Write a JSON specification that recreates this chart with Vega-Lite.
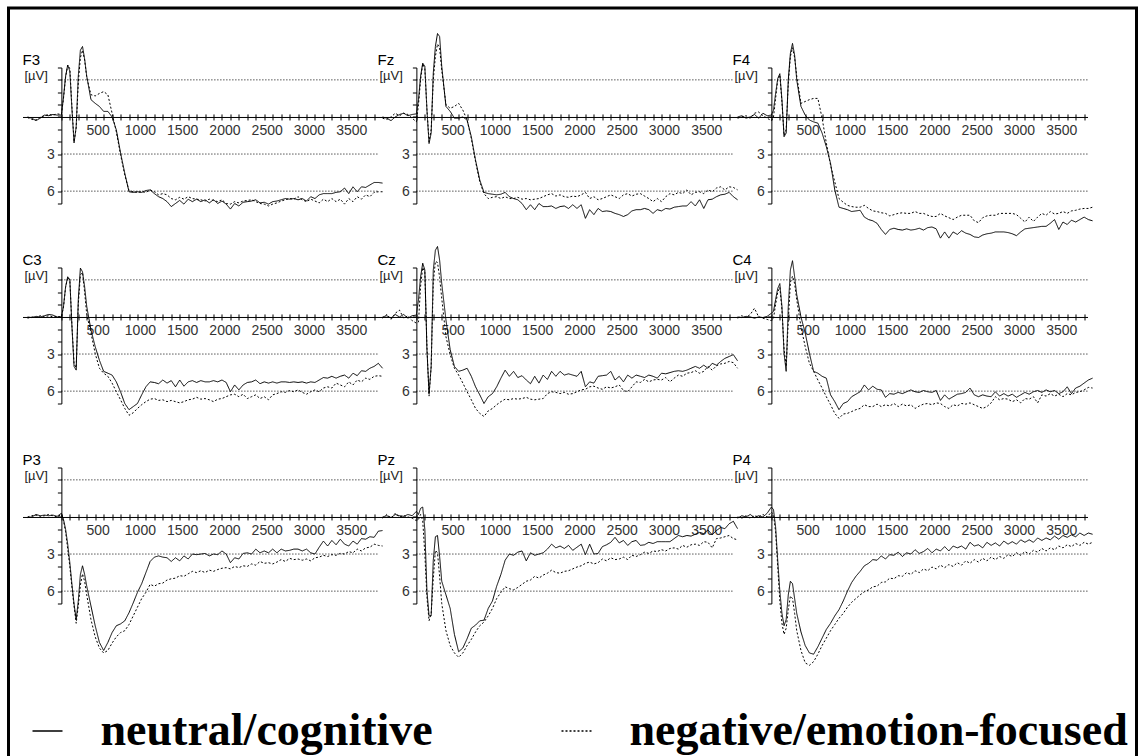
{
  "$schema": "https://vega.github.io/schema/vega-lite/v6.json",
  "background": "white",
  "padding": {"left": 6.5, "top": 6.5, "right": 0, "bottom": 0},
  "bounds": "flush",
  "data": {"values": [
    {"t":-400,"F3n":0,"F3e":0.05,"Fzn":0,"Fze":0.1,"F4n":0,"F4e":0.1,"C3n":0,"C3e":0.1,"Czn":0,"Cze":0.1,"C4n":0,"C4e":0.1,"P3n":0.05,"P3e":0,"Pzn":0,"Pze":0.1,"P4n":0.1,"P4e":0},
    {"t":-350,"F3n":0.1,"F3e":0.2,"Fzn":0.1,"Fze":0.2,"F4n":-0.1,"F4e":0,"C3n":0.05,"C3e":0,"Czn":-0.1,"Cze":-0.2,"C4n":0.05,"C4e":-0.1,"P3n":0,"P3e":-0.1,"Pzn":-0.1,"Pze":-0.2,"P4n":-0.1,"P4e":0.1},
    {"t":-300,"F3n":0.3,"F3e":0.25,"Fzn":0.3,"Fze":0,"F4n":0.1,"F4e":-0.1,"C3n":-0.05,"C3e":0.05,"Czn":0.1,"Cze":0.2,"C4n":-0.05,"C4e":0.05,"P3n":-0.2,"P3e":-0.15,"Pzn":0.05,"Pze":0.1,"P4n":0,"P4e":-0.1},
    {"t":-250,"F3n":0.1,"F3e":0,"Fzn":0,"Fze":-0.3,"F4n":0,"F4e":0.1,"C3n":0,"C3e":-0.1,"Czn":-0.2,"Cze":-0.3,"C4n":0,"C4e":-0.2,"P3n":-0.1,"P3e":-0.05,"Pzn":-0.2,"Pze":-0.3,"P4n":-0.2,"P4e":0.1},
    {"t":-200,"F3n":-0.15,"F3e":-0.1,"Fzn":-0.2,"Fze":-0.1,"F4n":-0.2,"F4e":-0.3,"C3n":-0.1,"C3e":0,"Czn":0,"Cze":-0.55,"C4n":0.1,"C4e":-0.7,"P3n":-0.15,"P3e":-0.1,"Pzn":-0.1,"Pze":0,"P4n":0.05,"P4e":-0.1},
    {"t":-150,"F3n":-0.1,"F3e":-0.2,"Fzn":-0.3,"Fze":-0.3,"F4n":0.1,"F4e":-0.4,"C3n":-0.2,"C3e":-0.1,"Czn":-0.2,"Cze":0.1,"C4n":0,"C4e":0,"P3n":-0.1,"P3e":-0.2,"Pzn":-0.05,"Pze":-0.1,"P4n":-0.1,"P4e":0},
    {"t":-100,"F3n":-0.2,"F3e":-0.15,"Fzn":-0.1,"Fze":-0.2,"F4n":-0.3,"F4e":-0.1,"C3n":-0.15,"C3e":0,"Czn":0.1,"Cze":-0.1,"C4n":0.05,"C4e":0.1,"P3n":-0.15,"P3e":-0.1,"Pzn":-0.2,"Pze":0,"P4n":0,"P4e":-0.2},
    {"t":-50,"F3n":-0.15,"F3e":-0.25,"Fzn":-0.2,"Fze":0.1,"F4n":-0.1,"F4e":0.1,"C3n":0,"C3e":-0.05,"Czn":-0.1,"Cze":0.3,"C4n":-0.05,"C4e":0.2,"P3n":-0.05,"P3e":0,"Pzn":-0.1,"Pze":0.1,"P4n":-0.3,"P4e":0},
    {"t":0,"F3n":-0.15,"F3e":-0.2,"Fzn":-0.25,"Fze":0.4,"F4n":-0.15,"F4e":0.3,"C3n":0.05,"C3e":0,"Czn":-0.15,"Cze":0.5,"C4n":-0.3,"C4e":0.3,"P3n":-0.3,"P3e":-0.2,"Pzn":-0.45,"Pze":0.3,"P4n":-0.8,"P4e":-0.4},
    {"t":25,"F3n":-1.6,"F3e":-1.5,"Fzn":-1.4,"Fze":-1,"F4n":-0.55,"F4e":0,"C3n":-0.85,"C3e":-0.8,"Czn":-1.4,"Cze":0.4,"C4n":-0.45,"C4e":0.1,"P3n":0.2,"P3e":0.3,"Pzn":-0.2,"Pze":0.2,"P4n":-0.6,"P4e":-0.2},
    {"t":50,"F3n":-3.3,"F3e":-3.2,"Fzn":-3.3,"Fze":-3,"F4n":-1.9,"F4e":-1.5,"C3n":-2.45,"C3e":-2.4,"Czn":-3.25,"Cze":-2.5,"C4n":-1.4,"C4e":-1,"P3n":1,"P3e":1.2,"Pzn":-0.7,"Pze":-0.2,"P4n":0.8,"P4e":1.2},
    {"t":75,"F3n":-4.2,"F3e":-4.2,"Fzn":-4.35,"Fze":-4.3,"F4n":-3.1,"F4e":-3,"C3n":-3.25,"C3e":-3.2,"Czn":-4.35,"Cze":-4,"C4n":-2.3,"C4e":-2,"P3n":2.2,"P3e":2.6,"Pzn":-0.8,"Pze":0.3,"P4n":3.5,"P4e":4},
    {"t":100,"F3n":-3.7,"F3e":-3.9,"Fzn":-4.1,"Fze":-3.9,"F4n":-3.5,"F4e":-3.4,"C3n":-3,"C3e":-3,"Czn":-3.8,"Cze":-3.6,"C4n":-2.7,"C4e":-2.4,"P3n":3.7,"P3e":4,"Pzn":1,"Pze":3,"P4n":6,"P4e":6.8},
    {"t":125,"F3n":-0.6,"F3e":-0.8,"Fzn":-0.55,"Fze":-0.6,"F4n":-1.4,"F4e":-1.2,"C3n":0.8,"C3e":0.7,"Czn":2.65,"Cze":2.4,"C4n":-0.85,"C4e":-0.6,"P3n":5.45,"P3e":5.7,"Pzn":6,"Pze":6.5,"P4n":7.8,"P4e":8.6},
    {"t":150,"F3n":2.1,"F3e":2,"Fzn":2.15,"Fze":2,"F4n":1.6,"F4e":1.5,"C3n":4,"C3e":3.8,"Czn":6.2,"Cze":6.4,"C4n":2.95,"C4e":2.6,"P3n":7.05,"P3e":7.2,"Pzn":8,"Pze":8.4,"P4n":8.8,"P4e":9.5},
    {"t":175,"F3n":0.8,"F3e":0.9,"Fzn":1.3,"Fze":1,"F4n":1.3,"F4e":1,"C3n":4.3,"C3e":4.1,"Czn":4,"Cze":4,"C4n":4.4,"C4e":4,"P3n":8.3,"P3e":8.6,"Pzn":8,"Pze":7.8,"P4n":8.3,"P4e":9},
    {"t":200,"F3n":-3.3,"F3e":-2.8,"Fzn":-3.55,"Fze":-3,"F4n":-3,"F4e":-2.7,"C3n":-1.4,"C3e":-1,"Czn":-3.8,"Cze":-2.8,"C4n":-0.85,"C4e":0.3,"P3n":6.8,"P3e":7.2,"Pzn":3.5,"Pze":5,"P4n":6.3,"P4e":7.5},
    {"t":225,"F3n":-5.4,"F3e":-4.8,"Fzn":-5.7,"Fze":-4.9,"F4n":-5.15,"F4e":-4.9,"C3n":-3.95,"C3e":-3.4,"Czn":-5.4,"Cze":-4.5,"C4n":-3.8,"C4e":-2.8,"P3n":4.65,"P3e":5.5,"Pzn":1.6,"Pze":2.7,"P4n":5.2,"P4e":6.4},
    {"t":250,"F3n":-5.7,"F3e":-5.4,"Fzn":-6.75,"Fze":-5.9,"F4n":-5.95,"F4e":-5.6,"C3n":-3.65,"C3e":-3.6,"Czn":-5.7,"Cze":-4.4,"C4n":-4.55,"C4e":-3.3,"P3n":3.95,"P3e":4.6,"Pzn":1.5,"Pze":2.9,"P4n":5.4,"P4e":6.6},
    {"t":275,"F3n":-4.7,"F3e":-4.6,"Fzn":-6.5,"Fze":-5.6,"F4n":-5,"F4e":-4.8,"C3n":-2.45,"C3e":-2,"Czn":-4.6,"Cze":-3.2,"C4n":-3.25,"C4e":-2.7,"P3n":4.65,"P3e":5.2,"Pzn":3.2,"Pze":4.8,"P4n":6.6,"P4e":7.8},
    {"t":300,"F3n":-3.3,"F3e":-3.2,"Fzn":-4.1,"Fze":-3.8,"F4n":-3,"F4e":-3.3,"C3n":-0.85,"C3e":-0.2,"Czn":-2.7,"Cze":-1.5,"C4n":-1.8,"C4e":-1.4,"P3n":5.6,"P3e":6.3,"Pzn":5.2,"Pze":7,"P4n":7.8,"P4e":9.2},
    {"t":350,"F3n":-1.4,"F3e":-1.8,"Fzn":-0.85,"Fze":-1,"F4n":-0.85,"F4e":-1.1,"C3n":1.05,"C3e":1.3,"Czn":0.25,"Cze":1.6,"C4n":0,"C4e":0.8,"P3n":7.2,"P3e":8.3,"Pzn":6.3,"Pze":9.2,"P4n":9.3,"P4e":10.8},
    {"t":400,"F3n":-1.1,"F3e":-1.7,"Fzn":-0.45,"Fze":-0.7,"F4n":-0.15,"F4e":-1.25,"C3n":2.4,"C3e":2.95,"Czn":2.65,"Cze":3.05,"C4n":1.3,"C4e":2.4,"P3n":8.8,"P3e":9.7,"Pzn":7.4,"Pze":10.4,"P4n":10.4,"P4e":11.8},
    {"t":450,"F3n":-0.85,"F3e":-1.9,"Fzn":0.1,"Fze":-0.85,"F4n":0.25,"F4e":-1.4,"C3n":3.5,"C3e":4.15,"Czn":4,"Cze":4.15,"C4n":2.95,"C4e":3.75,"P3n":10.15,"P3e":10.6,"Pzn":9.5,"Pze":11,"P4n":11,"P4e":12},
    {"t":500,"F3n":-0.45,"F3e":-2.05,"Fzn":0.1,"Fze":-1.1,"F4n":0.4,"F4e":-1.5,"C3n":4.4,"C3e":4.55,"Czn":4.4,"Cze":4.7,"C4n":4.4,"C4e":4.4,"P3n":10.8,"P3e":11,"Pzn":10.9,"Pze":11.35,"P4n":11.1,"P4e":11.7},
    {"t":550,"F3n":-0.45,"F3e":-1.8,"Fzn":0,"Fze":-0.55,"F4n":0.5,"F4e":-1.5,"C3n":4.55,"C3e":4.8,"Czn":4.3,"Cze":5.35,"C4n":4.55,"C4e":5.1,"P3n":10.15,"P3e":10.8,"Pzn":10.6,"Pze":11,"P4n":10.5,"P4e":11.1},
    {"t":600,"F3n":0,"F3e":-0.3,"Fzn":0.25,"Fze":0.25,"F4n":1.3,"F4e":0.1,"C3n":4.7,"C3e":5.35,"Czn":4.15,"Cze":6.05,"C4n":4.8,"C4e":5.75,"P3n":9.35,"P3e":10.2,"Pzn":9.85,"Pze":10.4,"P4n":9.8,"P4e":10.4},
    {"t":650,"F3n":1.05,"F3e":1.2,"Fzn":1.6,"Fze":1.75,"F4n":2.4,"F4e":2.1,"C3n":5.25,"C3e":6.05,"Czn":4.8,"Cze":6.7,"C4n":4.95,"C4e":6.45,"P3n":8.8,"P3e":9.7,"Pzn":9,"Pze":9.9,"P4n":9.1,"P4e":9.8},
    {"t":700,"F3n":2.9,"F3e":3.05,"Fzn":3.5,"Fze":3.6,"F4n":3.75,"F4e":3.9,"C3n":6.05,"C3e":6.7,"Czn":5.65,"Cze":7.4,"C4n":6.3,"C4e":7.1,"P3n":8.65,"P3e":9.35,"Pzn":8.75,"Pze":9.3,"P4n":8.6,"P4e":9.2},
    {"t":750,"F3n":4.55,"F3e":4.7,"Fzn":5.1,"Fze":5.25,"F4n":5.9,"F4e":5.25,"C3n":7,"C3e":7.4,"Czn":6.3,"Cze":7.8,"C4n":6.85,"C4e":7.8,"P3n":8.4,"P3e":9.2,"Pzn":8.4,"Pze":8.8,"P4n":8,"P4e":8.7},
    {"t":800,"F3n":6.05,"F3e":5.95,"Fzn":6.1,"Fze":6.2,"F4n":7.3,"F4e":6.6,"C3n":7.5,"C3e":7.95,"Czn":7,"Cze":8.05,"C4n":7.5,"C4e":8.2,"P3n":7.75,"P3e":8.7,"Pzn":8.35,"Pze":8.5,"P4n":7.5,"P4e":8.2},
    {"t":850,"F3n":6.1,"F3e":6.05,"Fzn":6.2,"Fze":6.6,"F4n":7.4,"F4e":6.9,"C3n":7.25,"C3e":7.75,"Czn":6.45,"Cze":7.6,"C4n":7,"C4e":7.85,"P3n":6.95,"P3e":8,"Pzn":7.4,"Pze":8,"P4n":6.8,"P4e":7.8},
    {"t":900,"F3n":6.05,"F3e":6.1,"Fzn":6.25,"Fze":6.5,"F4n":7.5,"F4e":7.15,"C3n":7,"C3e":7.4,"Czn":6.2,"Cze":7.4,"C4n":6.85,"C4e":7.8,"P3n":6.1,"P3e":7.3,"Pzn":6.8,"Pze":7.4,"P4n":6,"P4e":7.3},
    {"t":950,"F3n":6.1,"F3e":6.05,"Fzn":6.3,"Fze":6.45,"F4n":7.65,"F4e":7.25,"C3n":6.3,"C3e":7.1,"Czn":5.65,"Cze":7.1,"C4n":6.45,"C4e":7.65,"P3n":5.4,"P3e":6.6,"Pzn":5.6,"Pze":6.6,"P4n":5.3,"P4e":6.9},
    {"t":1000,"F3n":5.95,"F3e":6.1,"Fzn":6.25,"Fze":6.6,"F4n":7.6,"F4e":7.3,"C3n":5.65,"C3e":6.85,"Czn":4.95,"Cze":6.85,"C4n":6.25,"C4e":7.5,"P3n":4.5,"P3e":6.1,"Pzn":4.65,"Pze":6.1,"P4n":4.8,"P4e":6.6},
    {"t":1050,"F3n":5.9,"F3e":5.9,"Fzn":6.1,"Fze":6.45,"F4n":7.55,"F4e":7.3,"C3n":5.25,"C3e":6.65,"Czn":4.3,"Cze":6.65,"C4n":6.05,"C4e":7.4,"P3n":3.6,"P3e":5.45,"Pzn":3.5,"Pze":5.65,"P4n":4.4,"P4e":6.3},
    {"t":1100,"F3n":6.2,"F3e":6.05,"Fzn":6.45,"Fze":6.6,"F4n":8.1,"F4e":7.15,"C3n":5.3,"C3e":6.6,"Czn":4.8,"Cze":6.7,"C4n":5.5,"C4e":7.1,"P3n":3.25,"P3e":5.6,"Pzn":3,"Pze":5.8,"P4n":3.95,"P4e":6.05},
    {"t":1150,"F3n":6.45,"F3e":6.3,"Fzn":6.6,"Fze":6.6,"F4n":8.3,"F4e":7.4,"C3n":5.4,"C3e":6.75,"Czn":4.4,"Cze":6.6,"C4n":5.9,"C4e":7.25,"P3n":3.15,"P3e":5.4,"Pzn":3.1,"Pze":5.9,"P4n":3.75,"P4e":5.9},
    {"t":1200,"F3n":6.6,"F3e":6.2,"Fzn":6.7,"Fze":6.5,"F4n":8.4,"F4e":7.6,"C3n":5.1,"C3e":6.7,"Czn":4.9,"Cze":6.65,"C4n":5.6,"C4e":7.25,"P3n":3.25,"P3e":5.35,"Pzn":2.85,"Pze":5.7,"P4n":3.45,"P4e":5.65},
    {"t":1250,"F3n":6.85,"F3e":6.3,"Fzn":7,"Fze":6.65,"F4n":8.6,"F4e":7.65,"C3n":5.35,"C3e":6.85,"Czn":4.75,"Cze":6.6,"C4n":5.85,"C4e":7.05,"P3n":3.3,"P3e":5.1,"Pzn":2.75,"Pze":5.45,"P4n":3.5,"P4e":5.6},
    {"t":1300,"F3n":7.25,"F3e":6.6,"Fzn":7.5,"Fze":6.6,"F4n":9.1,"F4e":7.75,"C3n":5.15,"C3e":6.75,"Czn":5.1,"Cze":6.5,"C4n":5.9,"C4e":7.25,"P3n":3.6,"P3e":5,"Pzn":3.55,"Pze":5.2,"P4n":3.15,"P4e":5.3},
    {"t":1350,"F3n":7,"F3e":6.7,"Fzn":7.1,"Fze":6.7,"F4n":9.5,"F4e":7.8,"C3n":5.65,"C3e":6.85,"Czn":5.4,"Cze":6.65,"C4n":6.5,"C4e":7.1,"P3n":3.3,"P3e":4.95,"Pzn":2.9,"Pze":5.1,"P4n":3.4,"P4e":5.25},
    {"t":1400,"F3n":6.75,"F3e":6.5,"Fzn":7.5,"Fze":6.65,"F4n":9.1,"F4e":8,"C3n":5.1,"C3e":6.95,"Czn":4.8,"Cze":6.7,"C4n":6.2,"C4e":7.2,"P3n":3.55,"P3e":4.75,"Pzn":3.1,"Pze":4.8,"P4n":3.05,"P4e":4.95},
    {"t":1450,"F3n":7.05,"F3e":6.65,"Fzn":7,"Fze":6.6,"F4n":9,"F4e":7.9,"C3n":5.6,"C3e":6.85,"Czn":5.35,"Cze":6.65,"C4n":6.25,"C4e":7,"P3n":3.15,"P3e":4.8,"Pzn":3,"Pze":4.95,"P4n":3.1,"P4e":5},
    {"t":1500,"F3n":6.65,"F3e":6.45,"Fzn":7.25,"Fze":6.45,"F4n":9.1,"F4e":7.8,"C3n":5.25,"C3e":6.7,"Czn":4.7,"Cze":6.6,"C4n":6.1,"C4e":7.25,"P3n":3.4,"P3e":4.6,"Pzn":2.9,"Pze":4.7,"P4n":2.85,"P4e":4.75},
    {"t":1550,"F3n":6.85,"F3e":6.6,"Fzn":7.25,"Fze":6.3,"F4n":9.15,"F4e":7.75,"C3n":5.15,"C3e":6.65,"Czn":5.05,"Cze":6.2,"C4n":6.2,"C4e":7.05,"P3n":3,"P3e":4.4,"Pzn":2.6,"Pze":4.55,"P4n":3.2,"P4e":4.8},
    {"t":1600,"F3n":6.65,"F3e":6.65,"Fzn":7.2,"Fze":6.2,"F4n":9.05,"F4e":7.8,"C3n":5.3,"C3e":6.5,"Czn":4.4,"Cze":6.05,"C4n":6.05,"C4e":7.2,"P3n":3.05,"P3e":4.5,"Pzn":2.2,"Pze":4.3,"P4n":2.9,"P4e":4.5},
    {"t":1650,"F3n":6.85,"F3e":6.7,"Fzn":7.4,"Fze":6.4,"F4n":9.15,"F4e":7.8,"C3n":5.15,"C3e":6.65,"Czn":4.8,"Cze":6.1,"C4n":5.9,"C4e":7.1,"P3n":3,"P3e":4.35,"Pzn":2.5,"Pze":4.5,"P4n":3,"P4e":4.65},
    {"t":1700,"F3n":6.7,"F3e":6.8,"Fzn":7.25,"Fze":6.3,"F4n":9.1,"F4e":7.65,"C3n":5.25,"C3e":6.6,"Czn":4.4,"Cze":6.2,"C4n":6.05,"C4e":7.4,"P3n":2.95,"P3e":4.5,"Pzn":2.35,"Pze":4.55,"P4n":2.65,"P4e":4.35},
    {"t":1750,"F3n":6.95,"F3e":6.65,"Fzn":7.2,"Fze":6.45,"F4n":9,"F4e":7.8,"C3n":5.25,"C3e":6.7,"Czn":4.7,"Cze":6.1,"C4n":6.1,"C4e":7.2,"P3n":3.15,"P3e":4.3,"Pzn":2.55,"Pze":4.4,"P4n":2.95,"P4e":4.5},
    {"t":1800,"F3n":6.7,"F3e":6.75,"Fzn":7.4,"Fze":6.5,"F4n":9.15,"F4e":7.8,"C3n":5.15,"C3e":6.85,"Czn":4.6,"Cze":6.25,"C4n":5.95,"C4e":7.05,"P3n":3,"P3e":4.4,"Pzn":2.3,"Pze":4.35,"P4n":2.8,"P4e":4.2},
    {"t":1850,"F3n":7,"F3e":6.85,"Fzn":7.1,"Fze":6.4,"F4n":8.95,"F4e":7.95,"C3n":5.25,"C3e":6.65,"Czn":4.7,"Cze":6.2,"C4n":6.05,"C4e":7,"P3n":3.05,"P3e":4.25,"Pzn":2.7,"Pze":4.2,"P4n":2.55,"P4e":4.35},
    {"t":1900,"F3n":6.8,"F3e":6.7,"Fzn":7.4,"Fze":6.45,"F4n":8.9,"F4e":8.05,"C3n":5.1,"C3e":6.6,"Czn":4.8,"Cze":6.05,"C4n":6.1,"C4e":7.1,"P3n":2.75,"P3e":4.15,"Pzn":2.45,"Pze":4.05,"P4n":2.9,"P4e":4.05},
    {"t":1950,"F3n":7.05,"F3e":7,"Fzn":7.1,"Fze":6.3,"F4n":9.05,"F4e":8.05,"C3n":5.3,"C3e":6.45,"Czn":4.4,"Cze":5.9,"C4n":5.95,"C4e":6.95,"P3n":3,"P3e":4.1,"Pzn":2.2,"Pze":3.95,"P4n":2.6,"P4e":4.2},
    {"t":2000,"F3n":7.45,"F3e":7.05,"Fzn":8.2,"Fze":6.1,"F4n":9.8,"F4e":7.8,"C3n":6.05,"C3e":6.3,"Czn":5.65,"Cze":5.85,"C4n":6.75,"C4e":7,"P3n":3.7,"P3e":4.2,"Pzn":3.05,"Pze":3.75,"P4n":2.75,"P4e":3.9},
    {"t":2050,"F3n":7,"F3e":6.85,"Fzn":7.5,"Fze":6.6,"F4n":9.3,"F4e":8,"C3n":5.5,"C3e":6.25,"Czn":5.25,"Cze":5.65,"C4n":6.3,"C4e":7.25,"P3n":3.3,"P3e":4,"Pzn":2.2,"Pze":3.65,"P4n":2.4,"P4e":4.1},
    {"t":2100,"F3n":7.2,"F3e":6.95,"Fzn":7.9,"Fze":6.45,"F4n":9.8,"F4e":8.15,"C3n":5.9,"C3e":6.45,"Czn":5.35,"Cze":5.6,"C4n":6.65,"C4e":7.4,"P3n":3.4,"P3e":4.1,"Pzn":3,"Pze":3.8,"P4n":2.75,"P4e":3.85},
    {"t":2150,"F3n":6.9,"F3e":6.8,"Fzn":7.4,"Fze":6.7,"F4n":9.3,"F4e":8.3,"C3n":5.5,"C3e":6.25,"Czn":4.8,"Cze":5.75,"C4n":6.45,"C4e":7.1,"P3n":2.95,"P3e":3.95,"Pzn":2.95,"Pze":3.7,"P4n":2.35,"P4e":4},
    {"t":2200,"F3n":6.85,"F3e":6.75,"Fzn":7.65,"Fze":6.6,"F4n":9.5,"F4e":8.1,"C3n":5.3,"C3e":6.6,"Czn":4.75,"Cze":5.85,"C4n":6.25,"C4e":7.2,"P3n":2.9,"P3e":4,"Pzn":2.4,"Pze":3.4,"P4n":2.5,"P4e":3.7},
    {"t":2250,"F3n":6.8,"F3e":6.7,"Fzn":7.6,"Fze":6.45,"F4n":9.2,"F4e":7.95,"C3n":5.25,"C3e":6.45,"Czn":4.7,"Cze":5.65,"C4n":6.2,"C4e":7,"P3n":3,"P3e":3.8,"Pzn":2.25,"Pze":3.55,"P4n":2.35,"P4e":3.9},
    {"t":2300,"F3n":6.7,"F3e":6.85,"Fzn":7.65,"Fze":6.3,"F4n":9.4,"F4e":7.95,"C3n":5.1,"C3e":6.3,"Czn":4.4,"Cze":5.75,"C4n":6.1,"C4e":7.05,"P3n":2.6,"P3e":3.9,"Pzn":2.05,"Pze":3.3,"P4n":2.6,"P4e":3.55},
    {"t":2350,"F3n":6.95,"F3e":7,"Fzn":7.8,"Fze":6.45,"F4n":9.5,"F4e":7.95,"C3n":5.4,"C3e":6.6,"Czn":5.1,"Cze":5.65,"C4n":5.75,"C4e":6.95,"P3n":2.9,"P3e":3.6,"Pzn":1.65,"Pze":3.45,"P4n":2.05,"P4e":3.75},
    {"t":2400,"F3n":6.9,"F3e":7.05,"Fzn":7.9,"Fze":6.6,"F4n":9.7,"F4e":8.4,"C3n":5.25,"C3e":6.45,"Czn":4.8,"Cze":5.5,"C4n":6.3,"C4e":7.1,"P3n":2.75,"P3e":3.75,"Pzn":2.1,"Pze":3.4,"P4n":2.35,"P4e":3.45},
    {"t":2450,"F3n":7.05,"F3e":7.2,"Fzn":8.05,"Fze":6.3,"F4n":9.75,"F4e":8.55,"C3n":5.35,"C3e":6.7,"Czn":5.25,"Cze":5.95,"C4n":6.45,"C4e":7.25,"P3n":2.9,"P3e":3.7,"Pzn":1.9,"Pze":3.25,"P4n":2.25,"P4e":3.65},
    {"t":2500,"F3n":6.85,"F3e":7.05,"Fzn":7.9,"Fze":6.2,"F4n":9.55,"F4e":8.15,"C3n":5.25,"C3e":6.3,"Czn":4.7,"Cze":6.05,"C4n":6.3,"C4e":7.4,"P3n":2.6,"P3e":3.8,"Pzn":2.3,"Pze":3.45,"P4n":2.5,"P4e":3.35},
    {"t":2550,"F3n":6.8,"F3e":6.95,"Fzn":7.6,"Fze":6.4,"F4n":9.45,"F4e":8,"C3n":5.35,"C3e":6.2,"Czn":4.95,"Cze":5.65,"C4n":6.4,"C4e":7.25,"P3n":2.9,"P3e":3.65,"Pzn":2,"Pze":3.1,"P4n":2.05,"P4e":3.55},
    {"t":2600,"F3n":6.7,"F3e":6.8,"Fzn":7.5,"Fze":6.25,"F4n":9.4,"F4e":7.95,"C3n":5.25,"C3e":6.05,"Czn":4.7,"Cze":5.25,"C4n":6.45,"C4e":6.95,"P3n":2.6,"P3e":3.45,"Pzn":1.9,"Pze":3.2,"P4n":2.3,"P4e":3.25},
    {"t":2650,"F3n":6.6,"F3e":6.7,"Fzn":7.5,"Fze":6.2,"F4n":9.3,"F4e":7.95,"C3n":5.25,"C3e":6.1,"Czn":4.8,"Cze":5.3,"C4n":6.05,"C4e":6.45,"P3n":2.75,"P3e":3.6,"Pzn":2.3,"Pze":3.05,"P4n":2.1,"P4e":3.45},
    {"t":2700,"F3n":6.65,"F3e":6.6,"Fzn":7.4,"Fze":6.4,"F4n":9.3,"F4e":7.8,"C3n":5.3,"C3e":5.95,"Czn":4.9,"Cze":5.05,"C4n":6.4,"C4e":6.7,"P3n":2.7,"P3e":3.35,"Pzn":2.25,"Pze":2.85,"P4n":2.35,"P4e":3.2},
    {"t":2750,"F3n":6.6,"F3e":6.65,"Fzn":7.5,"Fze":6.6,"F4n":9.3,"F4e":7.8,"C3n":5.25,"C3e":6.05,"Czn":4.7,"Cze":5.25,"C4n":6.2,"C4e":6.6,"P3n":2.6,"P3e":3.45,"Pzn":2.05,"Pze":2.95,"P4n":1.95,"P4e":3.35},
    {"t":2800,"F3n":6.7,"F3e":6.45,"Fzn":7.8,"Fze":6.85,"F4n":9.35,"F4e":7.8,"C3n":5.3,"C3e":5.9,"Czn":4.8,"Cze":5.1,"C4n":6.4,"C4e":6.65,"P3n":2.6,"P3e":3.4,"Pzn":2.15,"Pze":2.75,"P4n":2.2,"P4e":3.05},
    {"t":2850,"F3n":6.6,"F3e":6.7,"Fzn":7.5,"Fze":6.6,"F4n":9.45,"F4e":7.8,"C3n":5.25,"C3e":6.1,"Czn":4.95,"Cze":5.05,"C4n":6.25,"C4e":6.85,"P3n":2.75,"P3e":3.5,"Pzn":2,"Pze":2.8,"P4n":2,"P4e":3.2},
    {"t":2900,"F3n":6.8,"F3e":6.85,"Fzn":7.6,"Fze":6.85,"F4n":9.6,"F4e":7.9,"C3n":5.35,"C3e":6.25,"Czn":4.55,"Cze":5.1,"C4n":6.5,"C4e":6.7,"P3n":2.6,"P3e":3.4,"Pzn":2,"Pze":2.65,"P4n":2.2,"P4e":2.9},
    {"t":2950,"F3n":6.45,"F3e":6.65,"Fzn":7.4,"Fze":6.45,"F4n":9.3,"F4e":8.2,"C3n":5.25,"C3e":6.05,"Czn":4.6,"Cze":4.9,"C4n":6.3,"C4e":6.95,"P3n":2.9,"P3e":3.55,"Pzn":2,"Pze":2.75,"P4n":1.85,"P4e":3.1},
    {"t":3000,"F3n":6.6,"F3e":6.8,"Fzn":7.45,"Fze":6.2,"F4n":9.05,"F4e":8.5,"C3n":5.3,"C3e":5.9,"Czn":4.5,"Cze":5.25,"C4n":6.1,"C4e":6.6,"P3n":3,"P3e":3.3,"Pzn":2,"Pze":2.55,"P4n":2.05,"P4e":2.8},
    {"t":3050,"F3n":6.3,"F3e":6.95,"Fzn":7.3,"Fze":6.3,"F4n":9,"F4e":8.1,"C3n":5.1,"C3e":6.05,"Czn":4.4,"Cze":4.95,"C4n":6.25,"C4e":6.65,"P3n":2.45,"P3e":3.25,"Pzn":1.75,"Pze":2.5,"P4n":1.85,"P4e":3},
    {"t":3100,"F3n":6.2,"F3e":6.65,"Fzn":7.25,"Fze":6.1,"F4n":8.95,"F4e":8.45,"C3n":4.9,"C3e":5.75,"Czn":4.35,"Cze":4.7,"C4n":6.05,"C4e":6.45,"P3n":1.95,"P3e":3.1,"Pzn":1.5,"Pze":2.6,"P4n":2.05,"P4e":2.7},
    {"t":3150,"F3n":6.2,"F3e":6.85,"Fzn":7.2,"Fze":6.2,"F4n":8.9,"F4e":8.1,"C3n":4.95,"C3e":5.65,"Czn":4.4,"Cze":4.8,"C4n":5.95,"C4e":6.95,"P3n":2.35,"P3e":3.2,"Pzn":1.6,"Pze":2.3,"P4n":1.7,"P4e":2.85},
    {"t":3200,"F3n":6.2,"F3e":6.6,"Fzn":7.2,"Fze":5.9,"F4n":8.85,"F4e":7.8,"C3n":4.8,"C3e":5.75,"Czn":4.3,"Cze":4.55,"C4n":6.1,"C4e":6.3,"P3n":1.9,"P3e":3.05,"Pzn":1.5,"Pze":2.45,"P4n":1.9,"P4e":2.55},
    {"t":3250,"F3n":6.1,"F3e":6.85,"Fzn":6.85,"Fze":6.3,"F4n":8.85,"F4e":7.95,"C3n":4.95,"C3e":5.35,"Czn":4.15,"Cze":4.5,"C4n":5.9,"C4e":6.4,"P3n":2.25,"P3e":3.1,"Pzn":1.55,"Pze":2.25,"P4n":1.7,"P4e":2.75},
    {"t":3300,"F3n":6.05,"F3e":6.65,"Fzn":7.2,"Fze":6.1,"F4n":8.6,"F4e":7.65,"C3n":4.8,"C3e":5.5,"Czn":4,"Cze":4.35,"C4n":6.05,"C4e":6.2,"P3n":1.8,"P3e":2.95,"Pzn":1.4,"Pze":2.2,"P4n":1.85,"P4e":2.5},
    {"t":3350,"F3n":5.75,"F3e":7.05,"Fzn":6.7,"Fze":6.05,"F4n":8.3,"F4e":7.85,"C3n":4.7,"C3e":5.65,"Czn":4.15,"Cze":4.55,"C4n":5.95,"C4e":6.4,"P3n":2.2,"P3e":3,"Pzn":1.25,"Pze":2.3,"P4n":1.55,"P4e":2.65},
    {"t":3400,"F3n":6.2,"F3e":6.6,"Fzn":7.4,"Fze":6.2,"F4n":9.1,"F4e":7.8,"C3n":4.95,"C3e":5.25,"Czn":3.9,"Cze":4.4,"C4n":6.2,"C4e":6.25,"P3n":2.35,"P3e":2.8,"Pzn":1.35,"Pze":2,"P4n":1.8,"P4e":2.35},
    {"t":3450,"F3n":5.65,"F3e":6.85,"Fzn":6.7,"Fze":5.9,"F4n":8.5,"F4e":7.65,"C3n":4.55,"C3e":5.5,"Czn":4.15,"Cze":4,"C4n":6.05,"C4e":6.45,"P3n":1.95,"P3e":2.9,"Pzn":1.05,"Pze":2.05,"P4n":1.5,"P4e":2.5},
    {"t":3500,"F3n":6.05,"F3e":6.45,"Fzn":6.65,"Fze":6.05,"F4n":8.7,"F4e":7.8,"C3n":4.75,"C3e":5.1,"Czn":3.75,"Cze":4.3,"C4n":5.65,"C4e":6.2,"P3n":2.2,"P3e":2.6,"Pzn":1.45,"Pze":2.5,"P4n":1.65,"P4e":2.25},
    {"t":3550,"F3n":5.65,"F3e":6.65,"Fzn":6.45,"Fze":5.75,"F4n":8.35,"F4e":7.6,"C3n":4.35,"C3e":5.25,"Czn":3.9,"Cze":3.95,"C4n":6.2,"C4e":6.3,"P3n":1.75,"P3e":2.75,"Pzn":1.1,"Pze":1.75,"P4n":1.45,"P4e":2.4},
    {"t":3600,"F3n":5.7,"F3e":6.3,"Fzn":6.3,"Fze":5.65,"F4n":8.5,"F4e":7.55,"C3n":4.4,"C3e":4.95,"Czn":3.6,"Cze":3.8,"C4n":5.75,"C4e":6.1,"P3n":1.8,"P3e":2.5,"Pzn":0.85,"Pze":1.7,"P4n":1.6,"P4e":2.15},
    {"t":3650,"F3n":5.5,"F3e":6.45,"Fzn":6.25,"Fze":5.9,"F4n":8.3,"F4e":7.45,"C3n":4.15,"C3e":5.05,"Czn":3.35,"Cze":3.75,"C4n":5.6,"C4e":6.05,"P3n":1.6,"P3e":2.45,"Pzn":0.95,"Pze":1.6,"P4n":1.3,"P4e":2.3},
    {"t":3700,"F3n":5.3,"F3e":6.1,"Fzn":6.1,"Fze":5.65,"F4n":8.1,"F4e":7.4,"C3n":4,"C3e":4.8,"Czn":3.2,"Cze":3.6,"C4n":5.35,"C4e":5.9,"P3n":1.65,"P3e":2.2,"Pzn":0.55,"Pze":1.5,"P4n":1.5,"P4e":2.05},
    {"t":3750,"F3n":5.3,"F3e":6.05,"Fzn":6.45,"Fze":5.7,"F4n":8.3,"F4e":7.4,"C3n":3.75,"C3e":4.75,"Czn":3.05,"Cze":3.7,"C4n":5.1,"C4e":5.7,"P3n":1.15,"P3e":2.3,"Pzn":0.35,"Pze":1.75,"P4n":1.3,"P4e":2.2},
    {"t":3800,"F3n":5.35,"F3e":6.05,"Fzn":6.7,"Fze":5.9,"F4n":8.4,"F4e":7.3,"C3n":4.15,"C3e":4.8,"Czn":3.55,"Cze":4.15,"C4n":4.95,"C4e":5.75,"P3n":1.1,"P3e":2.35,"Pzn":0.95,"Pze":1.85,"P4n":1.4,"P4e":2.05}
  ]},
  "transform": [
    {"fold": ["F3n","F3e","Fzn","Fze","F4n","F4e","C3n","C3e","Czn","Cze","C4n","C4e","P3n","P3e","Pzn","Pze","P4n","P4e"], "as": ["key", "v"]},
    {"calculate": "substring(datum.key, 0, 2)", "as": "ch"},
    {"calculate": "substring(datum.key, 2) == 'n' ? 'neutral/cognitive' : 'negative/emotion-focused'", "as": "cond"}
  ],
  "facet": {
    "field": "ch",
    "type": "nominal",
    "sort": ["F3","Fz","F4","C3","Cz","C4","P3","Pz","P4"],
    "title": null,
    "header": {"labels": false, "labelExpr": "''", "labelFontSize": 1, "title": null}
  },
  "columns": 3,
  "spacing": {"row": 64, "column": 0},
  "spec": {
    "width": 355,
    "height": 136,
    "layer": [
      {
        "mark": {"type": "line", "color": "black", "strokeWidth": 1},
        "encoding": {
          "x": {"field": "t", "type": "quantitative",
            "scale": {"domain": [-460, 3740], "nice": false, "zero": false},
            "axis": {"orient": "bottom", "offset": -86.52, "values": [0,100,200,300,400,500,600,700,800,900,1000,1100,1200,1300,1400,1500,1600,1700,1800,1900,2000,2100,2200,2300,2400,2500,2600,2700,2800,2900,3000,3100,3200,3300,3400,3500,3600,3700],
              "format": "d", "labelExpr": "datum.value > 0 && datum.value % 500 == 0 ? datum.label : ''",
              "labelOffset": -6, "labelPadding": 4, "labelOverlap": false, "labelFlush": false,
              "labelFont": "Liberation Sans Narrow, Liberation Sans", "labelFontSize": 14, "labelColor": "#333",
              "tickSize": 3, "tickColor": "black", "domainColor": "black", "grid": false, "title": null}},
          "y": {"field": "v", "type": "quantitative",
            "scale": {"domain": [-4, 7], "reverse": true, "nice": false, "zero": false},
            "axis": {"orient": "left", "offset": -38.88, "values": [-4,-3,-2,-1,0,1,2,3,4,5,6,7],
              "labels": false, "tickSize": 4, "tickColor": "black", "domainColor": "black", "grid": false,
              "title": "[µV]", "titleAngle": 0, "titleAlign": "right", "titleBaseline": "alphabetic", "titleX": -14, "titleY": 11.5,
              "titleFont": "Liberation Sans", "titleFontSize": 13, "titleFontWeight": "normal", "titleColor": "#222"}},
          "strokeDash": {"field": "cond", "type": "nominal",
            "scale": {"domain": ["neutral/cognitive", "negative/emotion-focused"], "range": [[1, 0], [2, 2]]},
            "legend": {"orient": "none", "legendX": -14, "legendY": -59.5, "direction": "horizontal",
              "title": " ", "titleFontSize": 2, "titlePadding": 690,
              "labelFont": "Liberation Serif", "labelFontWeight": "bold", "labelFontSize": 46, "labelColor": "black", "labelLimit": 0,
              "symbolType": "stroke", "symbolSize": 900, "symbolStrokeWidth": 1.5, "symbolStrokeColor": "black",
              "symbolOffset": 8, "labelOffset": 30, "columnPadding": 112,
              "padding": 8, "strokeColor": "black"}}
        }
      },
      {
        "transform": [
          {"filter": "datum.t == -400 && datum.cond == 'neutral/cognitive'"},
          {"calculate": "[-3, 3, 6]", "as": "g"},
          {"flatten": ["g"]}
        ],
        "mark": {"type": "rule", "color": "black", "strokeWidth": 1, "strokeDash": [1, 2]},
        "encoding": {
          "x": {"datum": 0, "type": "quantitative",
            "scale": {"domain": [-460, 3740], "nice": false, "zero": false},
            "axis": {"orient": "top", "offset": -49.45, "values": [0,100,200,300,400,500,600,700,800,900,1000,1100,1200,1300,1400,1500,1600,1700,1800,1900,2000,2100,2200,2300,2400,2500,2600,2700,2800,2900,3000,3100,3200,3300,3400,3500,3600,3700],
              "labels": false, "domain": false, "tickSize": 3, "tickColor": "black", "grid": false, "title": null}},
          "x2": {"datum": 3750},
          "y": {"field": "g", "type": "quantitative",
            "axis": {"orient": "left", "offset": -38.88, "values": [3, 6], "ticks": false, "domain": false, "grid": false, "title": null,
              "labelPadding": 7, "labelOverlap": false, "labelFont": "Liberation Sans Narrow, Liberation Sans", "labelFontSize": 14, "labelColor": "#333"}}
        }
      },
      {
        "transform": [
          {"filter": "datum.t == -400 && datum.cond == 'neutral/cognitive'"}
        ],
        "mark": {"type": "text", "align": "left", "baseline": "alphabetic", "dy": -3, "font": "Liberation Sans", "fontSize": 15, "color": "black"},
        "encoding": {
          "x": {"datum": -460, "type": "quantitative", "axis": null},
          "y": {"datum": -4, "type": "quantitative", "axis": null},
          "text": {"field": "ch", "type": "nominal"}
        }
      }
    ],
    "resolve": {"axis": {"x": "independent", "y": "independent"}}
  },
  "resolve": {"axis": {"x": "independent", "y": "independent"}},
  "config": {
    "view": {"stroke": null},
    "legend": {"strokeWidth": 3}
  }
}
